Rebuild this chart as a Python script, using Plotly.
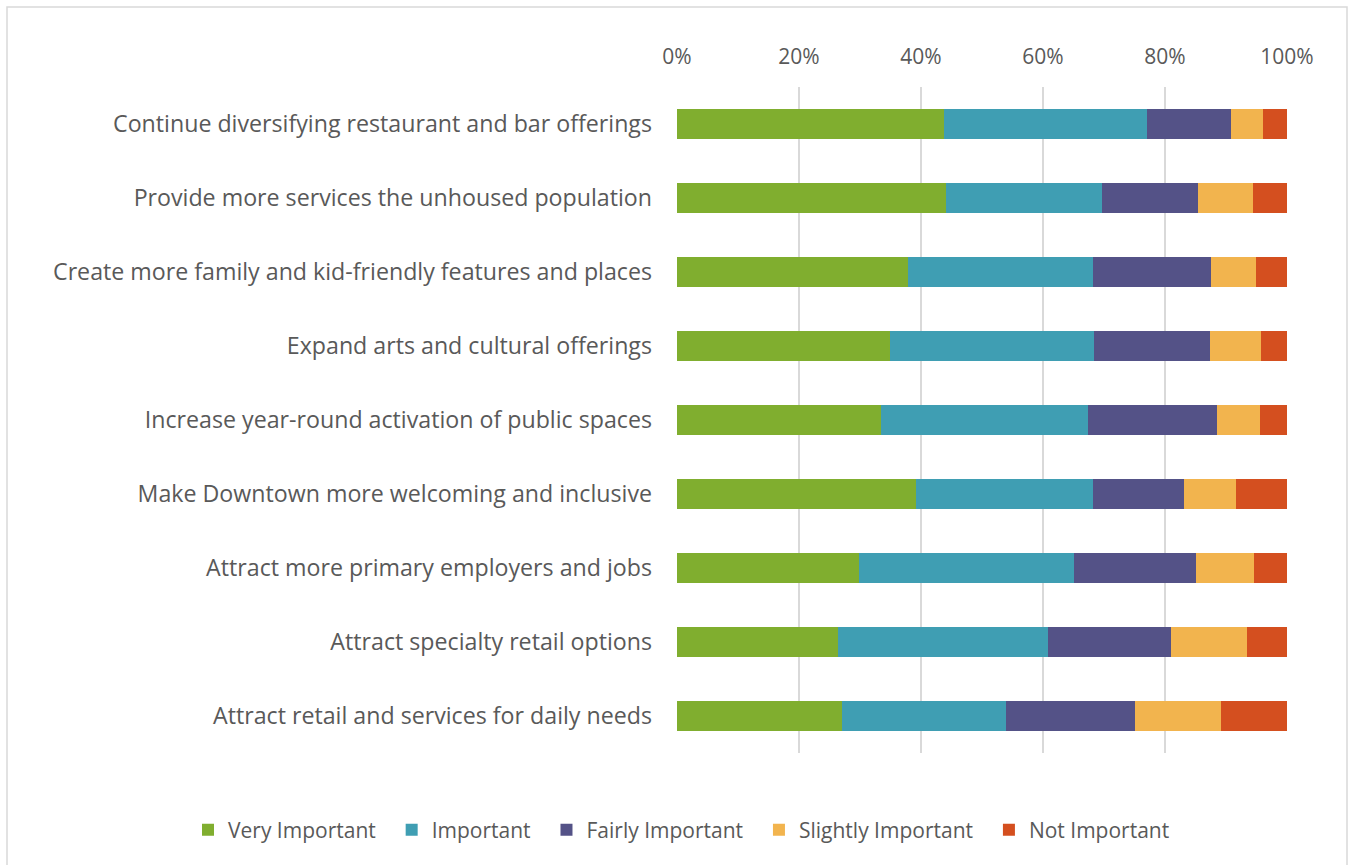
import plotly.graph_objects as go

# Survey priorities, top to bottom as shown
categories = [
    "Continue diversifying restaurant and bar offerings",
    "Provide more services the unhoused population",
    "Create more family and kid-friendly features and places",
    "Expand arts and cultural offerings",
    "Increase year-round activation of public spaces",
    "Make Downtown more welcoming and inclusive",
    "Attract more primary employers and jobs",
    "Attract specialty retail options",
    "Attract retail and services for daily needs",
]

very_important = [43.8, 44.1, 37.8, 34.9, 33.5, 39.2, 29.8, 26.4, 27.0]
important = [33.2, 25.5, 30.4, 33.4, 33.8, 29.0, 35.3, 34.5, 27.0]
fairly_important = [13.8, 15.8, 19.4, 19.1, 21.3, 14.9, 20.0, 20.1, 21.1]
slightly_important = [5.2, 9.1, 7.3, 8.4, 6.9, 8.6, 9.5, 12.4, 14.1]
not_important = [4.0, 5.5, 5.1, 4.2, 4.5, 8.3, 5.4, 6.6, 10.8]

series = [
    ("Very Important", very_important, "#80AE2F"),
    ("Important", important, "#3F9EB3"),
    ("Fairly Important", fairly_important, "#545287"),
    ("Slightly Important", slightly_important, "#F2B44E"),
    ("Not Important", not_important, "#D44F1F"),
]

# extra trailing space widens the gap between legend entries
legend_pad = "&nbsp;&nbsp;"

fig = go.Figure()
for name, vals, color in series:
    fig.add_trace(go.Bar(
        y=categories,
        x=vals,
        name=name + legend_pad,
        orientation="h",
        marker=dict(color=color, line=dict(width=0)),
    ))

W, H = 1349, 865
left, right, top, bottom = 677, 62, 87, 112
pw = W - left - right
ph = H - top - bottom

def px_x(p):
    return (p - left) / pw

def px_y(p):
    return (H - bottom - p) / ph

fig.update_layout(
    barmode="stack",
    width=W,
    height=H,
    margin=dict(l=left, r=right, t=top, b=bottom, autoexpand=False),
    paper_bgcolor="white",
    plot_bgcolor="white",
    bargap=0.595,
    font=dict(family="Open Sans", color="#595959"),
    xaxis=dict(
        side="top",
        range=[0, 100],
        tickvals=[0, 20, 40, 60, 80, 100],
        ticktext=["0%", "20%", "40%", "60%", "80%", "100%"],
        showgrid=True,
        gridcolor="#D9D9D9",
        gridwidth=1.5,
        zeroline=False,
        showline=False,
        ticks="",
        tickfont=dict(size=21, color="#595959"),
        ticklabelstandoff=18,
        fixedrange=True,
    ),
    yaxis=dict(
        categoryorder="array",
        categoryarray=categories,
        autorange="reversed",
        showgrid=False,
        ticks="",
        tickfont=dict(size=23.2, color="#595959"),
        ticklabelstandoff=24,
        fixedrange=True,
    ),
    legend=dict(
        orientation="h",
        xref="paper",
        x=px_x(188),
        xanchor="left",
        y=px_y(830),
        yanchor="middle",
        font=dict(size=21, color="#595959"),
        traceorder="normal",
    ),
    shapes=[
        dict(
            type="rect",
            xref="paper",
            yref="paper",
            x0=px_x(7),
            x1=px_x(1347),
            y0=px_y(875),
            y1=px_y(7),
            line=dict(color="#D9D9D9", width=1.5),
            fillcolor="rgba(0,0,0,0)",
            layer="below",
        )
    ],
)

fig.write_html("out.html")
